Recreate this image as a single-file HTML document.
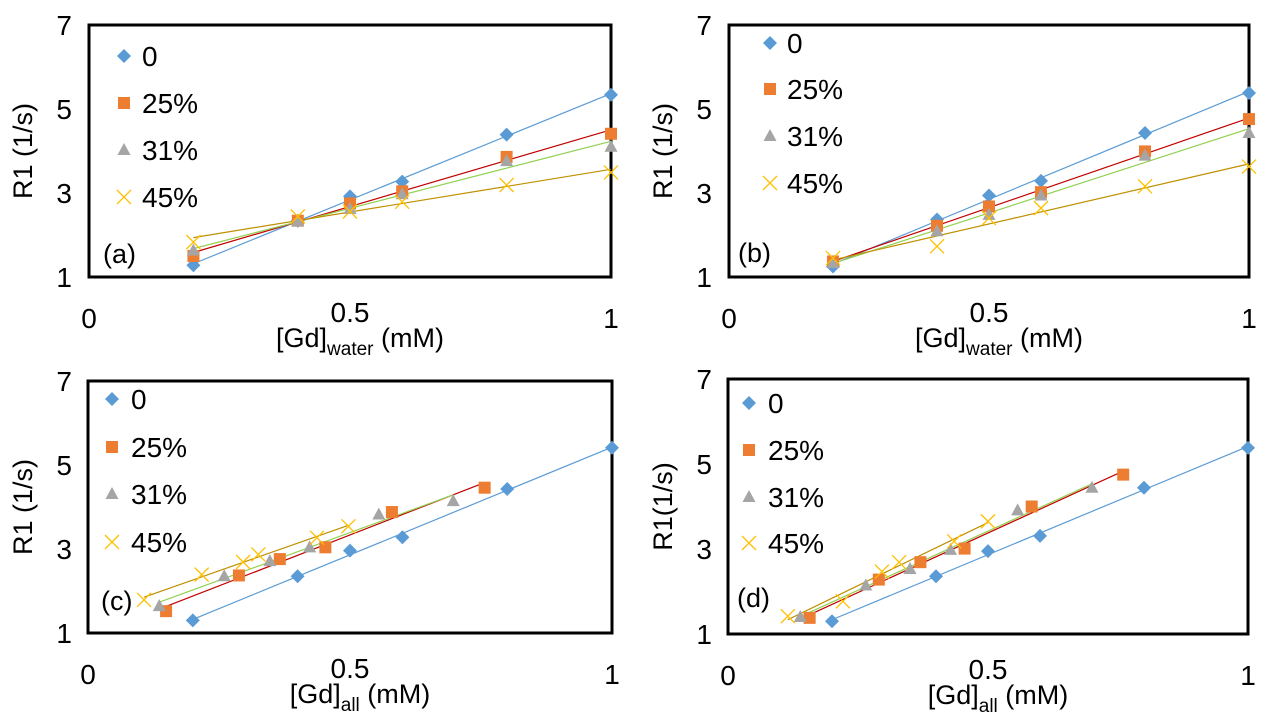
<!DOCTYPE html>
<html><head><meta charset="utf-8"><style>
body{margin:0;background:#fff;width:1280px;height:720px;overflow:hidden}
svg{display:block;font-family:"Liberation Sans",sans-serif}
</style></head><body>
<svg id="s" width="1280" height="720"></svg>
<script>
const seriesNames=["0","25%","31%","45%"];
const xA=[[0.2,0.4,0.5,0.6,0.8,1.0],[0.2,0.4,0.5,0.6,0.8,1.0],[0.2,0.4,0.5,0.6,0.8,1.0],[0.2,0.4,0.5,0.6,0.8,1.0]];
const yA=[[1.28,2.34,2.92,3.27,4.39,5.34],[1.5,2.34,2.75,3.04,3.86,4.41],[1.63,2.32,2.62,2.97,3.76,4.1],[1.83,2.44,2.56,2.79,3.19,3.49]];
const xB=xA;
const yB=[[1.25,2.37,2.94,3.29,4.43,5.38],[1.37,2.22,2.68,3.02,3.99,4.76],[1.33,2.09,2.48,2.94,3.89,4.43],[1.45,1.73,2.4,2.64,3.16,3.63]];
const xC=[[0.2,0.4,0.5,0.6,0.8,1.0],[0.149,0.288,0.366,0.453,0.58,0.757],[0.136,0.26,0.347,0.423,0.555,0.697],[0.107,0.217,0.296,0.325,0.437,0.497]];
const yC=[[1.3,2.35,2.96,3.28,4.43,5.41],[1.52,2.37,2.76,3.04,3.88,4.46],[1.64,2.35,2.71,3.04,3.82,4.14],[1.79,2.39,2.69,2.87,3.27,3.54]];
const xD=[[0.2,0.4,0.5,0.6,0.8,1.0],[0.157,0.29,0.37,0.455,0.584,0.76],[0.139,0.265,0.35,0.428,0.557,0.70],[0.115,0.221,0.296,0.329,0.435,0.5]];
const yD=[[1.3,2.36,2.95,3.31,4.44,5.38],[1.38,2.28,2.69,3.01,4.0,4.75],[1.4,2.14,2.53,2.98,3.91,4.44],[1.42,1.77,2.47,2.69,3.18,3.65]];
const yTicks=[1,3,5,7];
const xTicks=[0,0.5,1];
const markerCol=["#5b9bd5","#ed7d31","#a5a5a5","#ffc000"];
const lineCol=["#5b9bd5","#c00000","#92d050","#bf9000"];
const NS="http://www.w3.org/2000/svg";
const svg=document.getElementById('s');
function mk(tag,attrs,parent,txt){const e=document.createElementNS(NS,tag);for(const k in attrs)e.setAttribute(k,attrs[k]);if(txt!==undefined)e.textContent=txt;(parent||svg).appendChild(e);return e;}
const panels=[
 {id:'a',L:89,R:611,T:25,B:277,xs:xA,ys:yA,lab:'(a)',labX:103,labY:263,leg:[124,142,[56,103,150,197]],sub:'water',yt:'R1 (1/s)',ytx:32,yl:72},
 {id:'b',L:729,R:1249,T:25,B:277,xs:xB,ys:yB,lab:'(b)',labX:738,labY:262,leg:[770,787,[43,89,136,183]],sub:'water',yt:'R1 (1/s)',ytx:672,yl:712},
 {id:'c',L:88,R:612,T:381,B:633,xs:xC,ys:yC,lab:'(c)',labX:101,labY:610,leg:[112,131,[399,447,494,542]],sub:'all',yt:'R1 (1/s)',ytx:32,yl:72},
 {id:'d',L:728,R:1248,T:379,B:634,xs:xD,ys:yD,lab:'(d)',labX:737,labY:607,leg:[749,768,[403,450,497,543]],sub:'all',yt:'R1(1/s)',ytx:672,yl:712}
];
function marker(g,k,x,y,n){
  let e;
  if(k===0)e=mk('polygon',{points:`${x},${y-7} ${x+7},${y} ${x},${y+7} ${x-7},${y}`,fill:markerCol[0]},g);
  else if(k===1)e=mk('rect',{x:x-6,y:y-6,width:12,height:12,fill:markerCol[1]},g);
  else if(k===2)e=mk('polygon',{points:`${x},${y-7} ${x+6.5},${y+5} ${x-6.5},${y+5}`,fill:markerCol[2]},g);
  else e=mk('path',{d:`M${x-7},${y-7}L${x+7},${y+7}M${x+7},${y-7}L${x-7},${y+7}`,stroke:markerCol[3],'stroke-width':1.3,fill:'none'},g);
  
  
}
panels.forEach(p=>{
  const g=mk('g',{});
  
  
  const sx=v=>p.L+v*(p.R-p.L);
  const sy=v=>p.B-(v-1)/6*(p.B-p.T);
  const box=mk('rect',{x:p.L,y:p.T,width:p.R-p.L,height:p.B-p.T,fill:'#fff',stroke:'#000','stroke-width':3},g);
  
  yTicks.forEach(t=>{const e=mk('text',{x:p.yl,y:sy(t)+10,'text-anchor':'end','font-size':28},g,String(t));
    });
  xTicks.forEach(t=>{const e=mk('text',{x:sx(t),y:p.B+(t===0.5?45:51),'text-anchor':'middle','font-size':28},g,String(t));
    });
  const xt=mk('text',{x:(p.L+p.R)/2+10,y:p.B+70,'text-anchor':'middle','font-size':27},g);
  
  mk('tspan',{},xt,'[Gd]');mk('tspan',{'font-size':19,dy:8},xt,p.sub);mk('tspan',{dy:-8},xt,' (mM)');
  const cy=(p.T+p.B)/2;
  const yt=mk('text',{x:p.ytx,y:cy,'text-anchor':'middle','font-size':27,transform:`rotate(-90 ${p.ytx} ${cy})`},g,p.yt);
  
  const pl=mk('text',{x:p.labX,y:p.labY,'font-size':27},g,p.lab);
  
  for(let k=0;k<4;k++){
    const xs=p.xs[k],ys=p.ys[k],n=xs.length;
    let mx=0,my=0;for(let i=0;i<n;i++){mx+=xs[i];my+=ys[i];}mx/=n;my/=n;
    let sxy=0,sxx=0;for(let i=0;i<n;i++){sxy+=(xs[i]-mx)*(ys[i]-my);sxx+=(xs[i]-mx)**2;}
    const b=sxy/sxx,a=my-b*mx,x0=Math.min(...xs),x1=Math.max(...xs);
    const ln=mk('line',{x1:sx(x0),y1:sy(a+b*x0),x2:sx(x1),y2:sy(a+b*x1),stroke:lineCol[k],'stroke-width':1.2},g);
    
  }
  for(let k=0;k<4;k++){
    for(let i=0;i<p.xs[k].length;i++)marker(g,k,sx(p.xs[k][i]),sy(p.ys[k][i]),'point-series-'+k);
    marker(g,k,p.leg[0],p.leg[2][k],'legend-marker');
    const t=mk('text',{x:p.leg[1],y:p.leg[2][k]+10,'font-size':28},g,seriesNames[k]);
    
  }
});
</script>
</body></html>
